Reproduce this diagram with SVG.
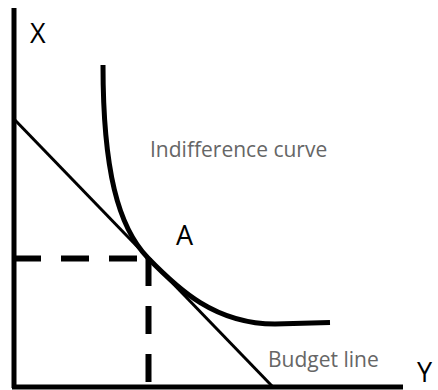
<svg xmlns="http://www.w3.org/2000/svg" width="438" height="390" viewBox="0 0 438 390">
<style>
.axis{stroke:#000;stroke-width:5;fill:none}
.lbl{font-family:"Open Sans","Liberation Sans",sans-serif;fill:#000;font-size:27px}
.note{font-family:"Open Sans","Liberation Sans",sans-serif;fill:#666;font-size:21px}
.dash{stroke:#000;stroke-width:6;stroke-dasharray:28 20;fill:none}
</style>
<rect width="438" height="390" fill="#fff"/>
<g id="axes">
<line class="axis" x1="14" y1="8" x2="14" y2="388"/>
<line class="axis" x1="12" y1="387" x2="403" y2="387"/>
</g>
<g id="connectors">
<line x1="13" y1="118" x2="272" y2="386" stroke="#000" stroke-width="3"/>
<path d="M103,65 C103,170 118,227 148,258 C178,289 215,324 275,324 L330,322.5" stroke="#000" stroke-width="5" fill="none"/>
<line class="dash" x1="13" y1="258.5" x2="148" y2="258.5"/>
<line class="dash" x1="148.5" y1="258" x2="148.5" y2="386" stroke-width="8" stroke-dasharray="28 20"/>
</g>
<g id="labels">
<text class="lbl" x="417" y="382" font-size="22">Y</text>
<text class="lbl" x="30" y="43">X</text>
<text class="lbl" x="176" y="245">A</text>
<text class="note" x="150" y="157">Indifference curve</text>
<text class="note" x="268" y="367">Budget line</text>
</g>
</svg>
